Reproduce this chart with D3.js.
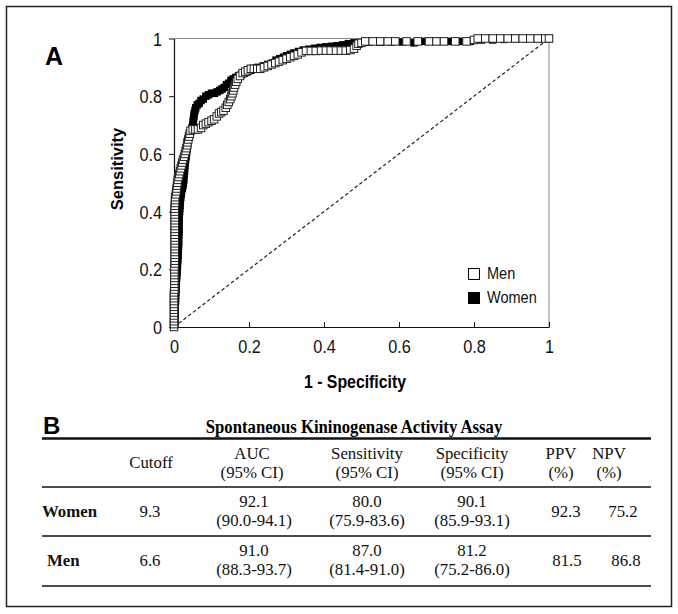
<!DOCTYPE html>
<html>
<head>
<meta charset="utf-8">
<script src="https://cdn.jsdelivr.net/npm/d3@7"></script>
<style>
  html, body { margin: 0; padding: 0; background: #fff; }
  svg { display: block; }
</style>
</head>
<body>
<svg id="chart" width="678" height="614"></svg>
<script>
// ---------------- DATA ----------------
const xTicks = [0, 0.2, 0.4, 0.6, 0.8, 1];
const yTicks = [0, 0.2, 0.4, 0.6, 0.8, 1];
const seriesNames = ["Men", "Women"];

// Women ROC points [1 - specificity, sensitivity]
const women = [
  [0,0],[0.002,0.01],[0.002,0.02],[0.002,0.03],[0.003,0.04],[0.003,0.05],[0.003,0.06],[0.003,0.07],
  [0.003,0.08],[0.004,0.09],[0.004,0.10],[0.004,0.11],[0.005,0.12],[0.005,0.13],[0.005,0.14],[0.006,0.15],
  [0.006,0.16],[0.007,0.17],[0.007,0.18],[0.008,0.19],[0.008,0.20],[0.009,0.21],[0.009,0.22],[0.010,0.23],
  [0.010,0.24],[0.011,0.25],[0.011,0.26],[0.011,0.27],[0.012,0.28],[0.012,0.29],[0.012,0.30],[0.012,0.31],
  [0.013,0.32],[0.013,0.33],[0.013,0.34],[0.013,0.35],[0.013,0.36],[0.013,0.37],[0.014,0.38],[0.014,0.39],
  [0.015,0.40],[0.015,0.41],[0.016,0.42],[0.016,0.43],[0.017,0.44],[0.018,0.45],[0.019,0.46],[0.020,0.47],
  [0.022,0.48],[0.024,0.49],[0.025,0.50],[0.026,0.51],[0.026,0.52],[0.027,0.53],[0.028,0.54],[0.028,0.55],
  [0.029,0.56],[0.030,0.57],[0.031,0.58],[0.032,0.59],[0.033,0.60],[0.034,0.61],[0.035,0.62],[0.036,0.63],
  [0.037,0.64],[0.038,0.65],[0.040,0.66],[0.042,0.67],[0.045,0.68],[0.048,0.69],[0.050,0.70],[0.051,0.71],
  [0.052,0.72],[0.053,0.73],[0.054,0.74],[0.056,0.75],[0.058,0.76],[0.062,0.77],[0.067,0.775],[0.072,0.785],
  [0.078,0.79],[0.085,0.80],[0.092,0.805],[0.100,0.81],[0.108,0.81],[0.115,0.815],[0.122,0.82],[0.128,0.825],
  [0.134,0.83],[0.140,0.84],[0.146,0.845],[0.152,0.855],[0.158,0.86],[0.165,0.865],[0.172,0.87],[0.180,0.875],
  [0.188,0.88],[0.196,0.885],[0.205,0.89],[0.215,0.895],[0.225,0.90],[0.238,0.905],[0.250,0.91],[0.262,0.915],
  [0.272,0.925],[0.282,0.93],[0.292,0.935],[0.300,0.94],[0.310,0.945],[0.320,0.95],[0.332,0.955],[0.345,0.96],
  [0.360,0.963],[0.375,0.966],[0.390,0.969],[0.405,0.971],[0.420,0.973],[0.435,0.975],[0.450,0.978],[0.465,0.982],
  [0.480,0.985],[0.50,0.985],[0.52,0.987],[0.55,0.987],[0.58,0.988],[0.61,0.988],[0.64,0.985],[0.67,0.99],
  [0.70,0.99],[0.73,0.99],[0.76,0.99],[0.79,0.99],[0.82,0.995],[0.85,0.995],[0.88,0.997],[0.91,1],
  [0.94,1],[0.97,1],[1,1]
];

// Men ROC points [1 - specificity, sensitivity]
const men = [
  [0,0],[0,0.01],[0,0.02],[0,0.03],[0,0.04],[0,0.05],[0,0.06],[0,0.07],[0,0.08],[0,0.09],[0,0.10],
  [0,0.11],[0,0.12],[0.001,0.13],[0.001,0.14],[0.001,0.15],[0.001,0.16],[0.001,0.17],[0.001,0.18],[0.001,0.19],
  [0.001,0.20],[0.001,0.21],[0.002,0.22],[0.002,0.23],[0.002,0.24],[0.002,0.25],[0.002,0.26],[0.002,0.27],
  [0.002,0.28],[0.002,0.29],[0.002,0.30],[0.002,0.31],[0.002,0.32],[0.002,0.33],[0.002,0.34],[0.002,0.35],
  [0.002,0.36],[0.002,0.37],[0.002,0.38],[0.002,0.39],[0.002,0.40],[0.002,0.41],[0.002,0.42],[0.003,0.43],
  [0.003,0.44],[0.003,0.45],[0.005,0.46],[0.006,0.47],[0.007,0.48],[0.008,0.49],[0.009,0.50],[0.010,0.51],
  [0.012,0.52],[0.014,0.53],[0.016,0.54],[0.018,0.55],[0.020,0.56],[0.022,0.57],[0.024,0.58],[0.027,0.59],
  [0.029,0.60],[0.031,0.61],[0.033,0.62],[0.035,0.63],[0.036,0.64],[0.038,0.65],[0.040,0.66],[0.042,0.67],
  [0.044,0.68],[0.050,0.685],[0.057,0.685],[0.064,0.685],[0.072,0.69],[0.078,0.70],[0.085,0.705],[0.092,0.71],
  [0.100,0.715],[0.107,0.72],[0.114,0.73],[0.120,0.74],[0.126,0.745],[0.132,0.75],[0.138,0.76],[0.142,0.77],
  [0.146,0.78],[0.150,0.79],[0.153,0.80],[0.156,0.81],[0.158,0.82],[0.160,0.83],[0.163,0.84],[0.166,0.85],
  [0.170,0.86],[0.176,0.87],[0.183,0.88],[0.190,0.885],[0.197,0.89],[0.205,0.895],[0.213,0.895],[0.222,0.895],
  [0.230,0.895],[0.240,0.90],[0.250,0.905],[0.260,0.91],[0.270,0.915],[0.280,0.92],[0.290,0.925],[0.300,0.93],
  [0.310,0.935],[0.320,0.94],[0.330,0.945],[0.340,0.952],[0.352,0.957],[0.365,0.957],[0.378,0.957],[0.392,0.958],
  [0.405,0.958],[0.418,0.958],[0.432,0.958],[0.445,0.958],[0.458,0.958],[0.470,0.96],[0.480,0.965],[0.487,0.975],
  [0.492,0.982],[0.50,0.985],[0.51,0.99],[0.53,0.99],[0.55,0.99],[0.57,0.99],[0.59,0.99],[0.62,0.99],
  [0.65,0.99],[0.68,0.99],[0.70,0.99],[0.72,0.99],[0.75,0.99],[0.78,0.99],[0.80,0.995],[0.81,1],
  [0.83,1],[0.85,1],[0.87,1],[0.89,1],[0.91,1],[0.93,1],[0.95,1],[0.97,1],[0.99,1],[1,1]
];

// Table B
const tableTitle = "Spontaneous Kininogenase Activity Assay";
const headerLine1 = ["Cutoff", "AUC", "Sensitivity", "Specificity", "PPV", "NPV"];
const headerLine2 = ["", "(95% CI)", "(95% CI)", "(95% CI)", "(%)", "(%)"];
const rowLabels = ["Women", "Men"];
const cutoff = ["9.3", "6.6"];
const auc = ["92.1", "91.0"];
const aucCI = ["(90.0-94.1)", "(88.3-93.7)"];
const sensitivity = ["80.0", "87.0"];
const sensitivityCI = ["(75.9-83.6)", "(81.4-91.0)"];
const specificity = ["90.1", "81.2"];
const specificityCI = ["(85.9-93.1)", "(75.2-86.0)"];
const ppv = ["92.3", "81.5"];
const npv = ["75.2", "86.8"];

// ---------------- DRAW ----------------
const svg = d3.select("#chart");
const SANS = "'Liberation Sans', Arial, Helvetica, sans-serif";
const SERIF = "'Liberation Serif', 'Times New Roman', Times, serif";
const SQ = 0.88;   // horizontal squeeze of axis text, as in the reference
const TSQ = 0.96;  // horizontal squeeze of table cell text

// outer frame
svg.append("rect").attr("x", 6.5).attr("y", 6.5).attr("width", 665).attr("height", 600)
  .attr("fill", "none").attr("stroke", "#222").attr("stroke-width", 1.5);

const x = d3.scaleLinear().domain([0, 1]).range([174, 549]);
const y = d3.scaleLinear().domain([0, 1]).range([327, 38.5]);

// top and right frame of plot (gray)
svg.append("line").attr("x1", x(0)).attr("x2", x(1)).attr("y1", y(1)).attr("y2", y(1))
  .attr("stroke", "#8a8a8a").attr("stroke-width", 1);
svg.append("line").attr("x1", x(1)).attr("x2", x(1)).attr("y1", y(1)).attr("y2", y(0))
  .attr("stroke", "#8a8a8a").attr("stroke-width", 1);

// axes
const fmt = d3.format("~g");
const gx = svg.append("g").attr("transform", `translate(0,${y(0)})`)
  .call(d3.axisBottom(x).tickValues(xTicks).tickFormat(fmt).tickSizeInner(-5).tickSizeOuter(0).tickPadding(13));
const gy = svg.append("g").attr("transform", `translate(${x(0)},0)`)
  .call(d3.axisLeft(y).tickValues(yTicks).tickFormat(fmt).tickSizeInner(5).tickSizeOuter(0).tickPadding(7));
[gx, gy].forEach(g => {
  g.select(".domain").attr("stroke", "#111").attr("stroke-width", 1.2);
  g.selectAll(".tick line").attr("stroke", "#111");
  g.selectAll(".tick text").attr("font-family", SANS).attr("font-size", 18.5).attr("fill", "#111");
});
gx.selectAll(".tick text").attr("transform", `scale(${SQ},1)`);
gy.selectAll(".tick text").attr("dy", "0.36em").attr("x", -12 / SQ).attr("transform", `scale(${SQ},1)`);

// diagonal reference line
svg.append("line").attr("x1", x(0)).attr("y1", y(0)).attr("x2", x(1)).attr("y2", y(1))
  .attr("stroke", "#222").attr("stroke-width", 1.2).attr("stroke-dasharray", "3.5,2.5");

// markers
const S = 7.5;
svg.append("g").selectAll("rect").data(women).join("rect")
  .attr("x", d => x(d[0]) - S / 2).attr("y", d => y(d[1]) - S / 2)
  .attr("width", S).attr("height", S).attr("fill", "#000");
svg.append("g").selectAll("rect").data(men).join("rect")
  .attr("x", d => x(d[0]) - S / 2).attr("y", d => y(d[1]) - S / 2)
  .attr("width", S).attr("height", S).attr("fill", "#fff").attr("stroke", "#222").attr("stroke-width", 1);

// axis titles
svg.append("text").attr("transform", "translate(123,169) rotate(-90)").attr("text-anchor", "middle")
  .attr("font-family", SANS).attr("font-weight", "bold").attr("font-size", 16.5).text("Sensitivity");
svg.append("text").attr("transform", `translate(355,388) scale(${SQ},1)`).attr("text-anchor", "middle")
  .attr("font-family", SANS).attr("font-weight", "bold").attr("font-size", 18).text("1 - Specificity");

// panel letters
svg.append("text").attr("x", 45).attr("y", 65).attr("font-family", SANS).attr("font-weight", "bold")
  .attr("font-size", 25).text("A");
svg.append("text").attr("x", 43).attr("y", 434).attr("font-family", SANS).attr("font-weight", "bold")
  .attr("font-size", 24).text("B");

// legend
const legend = svg.append("g");
seriesNames.forEach((name, i) => {
  const ly = 268 + i * 24;
  legend.append("rect").attr("x", 468.5).attr("y", ly + 0.5).attr("width", 11).attr("height", 11)
    .attr("fill", name === "Men" ? "#fff" : "#000").attr("stroke", "#000").attr("stroke-width", 1);
  legend.append("text").attr("transform", `translate(487,${ly + 10.5}) scale(${SQ},1)`)
    .attr("font-family", SANS).attr("font-size", 16.5).attr("fill", "#111").text(name);
});

// ---------------- TABLE ----------------
const tLeft = 42, tRight = 651;
svg.append("text").attr("transform", `translate(354,433) scale(${SQ},1)`).attr("text-anchor", "middle")
  .attr("font-family", SERIF).attr("font-weight", "bold").attr("font-size", 19).text(tableTitle);

const hLine = (yy, w) => svg.append("line").attr("x1", tLeft).attr("x2", tRight).attr("y1", yy).attr("y2", yy)
  .attr("stroke", "#111").attr("stroke-width", w);
hLine(438.5, 2.5);
hLine(487, 1.6);
hLine(536, 1.4);
hLine(586, 1.6);

const headX = [151, 252, 367, 472, 561, 609];
const valX = [150, 254, 367, 472, 566, 623];
const tcell = (xx, yy, s, bold, anchor) => svg.append("text")
  .attr("transform", `translate(${xx},${yy}) scale(${TSQ},1)`)
  .attr("text-anchor", anchor || "middle")
  .attr("font-family", SERIF).attr("font-size", 17.5).attr("font-weight", bold ? "bold" : "normal")
  .attr("fill", "#111").text(s);

headerLine1.forEach((h, i) => {
  if (headerLine2[i]) {
    tcell(headX[i], 458.5, h);
    tcell(headX[i], 478, headerLine2[i]);
  } else {
    tcell(headX[i], 468, h);
  }
});

const rowMid = [517, 566];
const rowLabelX = [42, 47];
rowLabels.forEach((lab, r) => {
  const m = rowMid[r];
  tcell(rowLabelX[r], m, lab, true, "start");
  tcell(valX[0], m, cutoff[r]);
  tcell(valX[1], m - 10.5, auc[r]); tcell(valX[1], m + 9, aucCI[r]);
  tcell(valX[2], m - 10.5, sensitivity[r]); tcell(valX[2], m + 9, sensitivityCI[r]);
  tcell(valX[3], m - 10.5, specificity[r]); tcell(valX[3], m + 9, specificityCI[r]);
  tcell(valX[4] + (r === 1 ? 1 : 0), m, ppv[r]);
  tcell(valX[5] + (r === 1 ? 3 : 0), m, npv[r]);
});
</script>
</body>
</html>
